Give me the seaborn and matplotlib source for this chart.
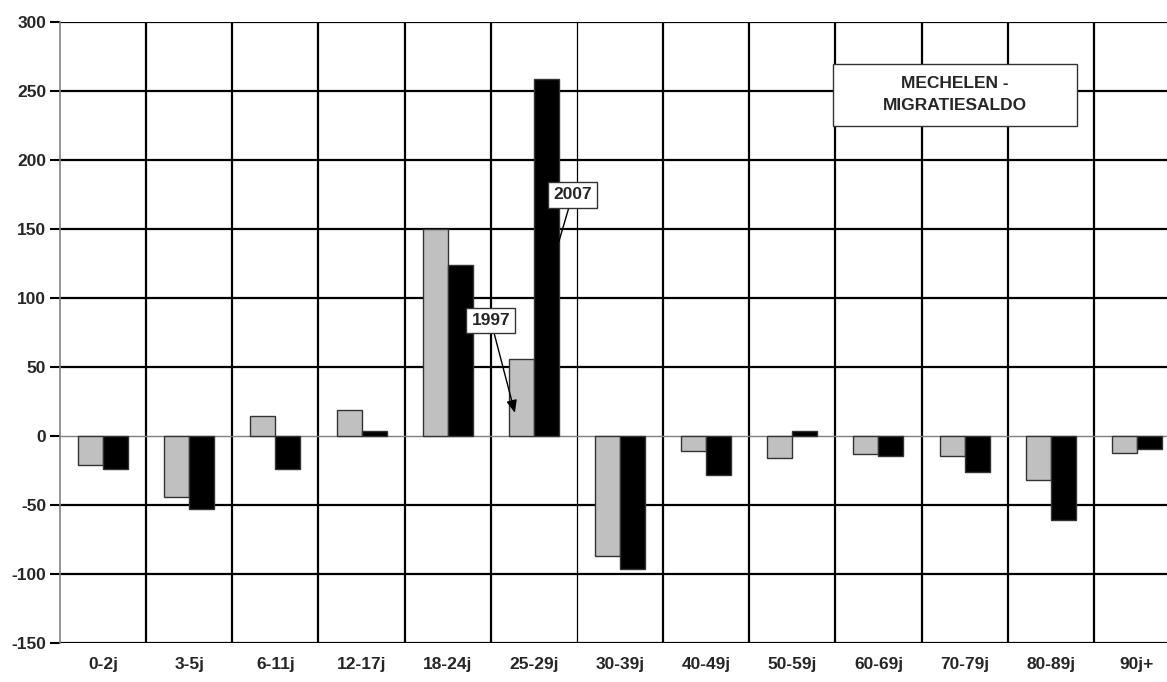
import matplotlib
matplotlib.use("Agg")
import matplotlib.pyplot as plt
from matplotlib.patches import Rectangle
import seaborn as sns
import pandas as pd

categories = ["0-2j", "3-5j", "6-11j", "12-17j", "18-24j", "25-29j", "30-39j",
              "40-49j", "50-59j", "60-69j", "70-79j", "80-89j", "90j+"]
values_1997 = [-21, -44, 15, 19, 150, 56, -87, -11, -16, -13, -14, -32, -12]
values_2007 = [-24, -53, -24, 4, 124, 259, -96, -28, 4, -14, -26, -61, -9]
years = ["1997", "2007"]
yticks = list(range(-150, 301, 50))

df = pd.DataFrame({
    "cat": categories * 2,
    "value": values_1997 + values_2007,
    "year": [years[0]] * len(categories) + [years[1]] * len(categories),
})

sns.set_theme(style="white")
plt.rcParams["font.family"] = ["Liberation Sans", "DejaVu Sans"]
plt.rcParams["font.weight"] = "bold"

FS = 12.5

fig = plt.figure(figsize=(11.67, 6.82), dpi=100)
ax = fig.add_axes([60 / 1167, 1 - 643.3 / 682, 1120 / 1167, (643.3 - 22.3) / 682])

sns.barplot(data=df, x="cat", y="value", hue="year", order=categories,
            hue_order=years, palette={"1997": "#C0C0C0", "2007": "#000000"},
            width=0.58, edgecolor="#333333", linewidth=1.0, ax=ax,
            legend=False, zorder=3)

ax.set_xlim(-0.5, len(categories) - 0.5)
ax.set_ylim(-150, 300)
ax.set_yticks(yticks)
ax.set_yticklabels([str(t) for t in yticks], fontsize=FS, fontweight="bold")
ax.set_xticks(range(len(categories)))
ax.set_xticklabels(categories, fontsize=FS, fontweight="bold")
ax.set_xlabel("")
ax.set_ylabel("")
ax.tick_params(axis="y", length=7, width=1.5, color="black", pad=3, left=True)
ax.tick_params(axis="x", length=0, pad=10)

for t in yticks:
    if t == 0:
        ax.axhline(0, color="#808080", lw=1.0, zorder=2)
    else:
        ax.axhline(t, color="black", lw=1.6, zorder=1)
for i in range(len(categories) - 1):
    ax.axvline(i + 0.5, color="black", lw=(0.9 if i == 5 else 1.6), zorder=1)

for s in ["top", "right"]:
    ax.spines[s].set_visible(False)
ax.spines["left"].set_color("#808080")
ax.spines["left"].set_linewidth(1.2)
ax.spines["bottom"].set_visible(False)

ax.add_patch(Rectangle((8.47, 225), 2.83, 45, fc="white", ec="#333333",
                       lw=1.0, zorder=5))
ax.text(9.885, 247.5, "MECHELEN -\nMIGRATIESALDO", ha="center", va="center",
        fontsize=FS, fontweight="bold", linespacing=1.55, zorder=6)

ax.annotate("2007", xy=(5.29, 141), xytext=(5.45, 175),
            ha="center", va="center", fontsize=FS, fontweight="bold", zorder=6,
            bbox=dict(boxstyle="square,pad=0.3", fc="white", ec="#333333", lw=1.0),
            arrowprops=dict(arrowstyle="-", color="black", lw=1.0,
                            shrinkA=0, shrinkB=0))
ax.annotate("1997", xy=(4.78, 17), xytext=(4.5, 84),
            ha="center", va="center", fontsize=FS, fontweight="bold", zorder=6,
            bbox=dict(boxstyle="square,pad=0.3", fc="white", ec="#333333", lw=1.0),
            arrowprops=dict(arrowstyle="-|>,head_length=0.6,head_width=0.25",
                            color="black", lw=1.0, shrinkA=0, shrinkB=0))

fig.savefig("out.png", dpi=100)
